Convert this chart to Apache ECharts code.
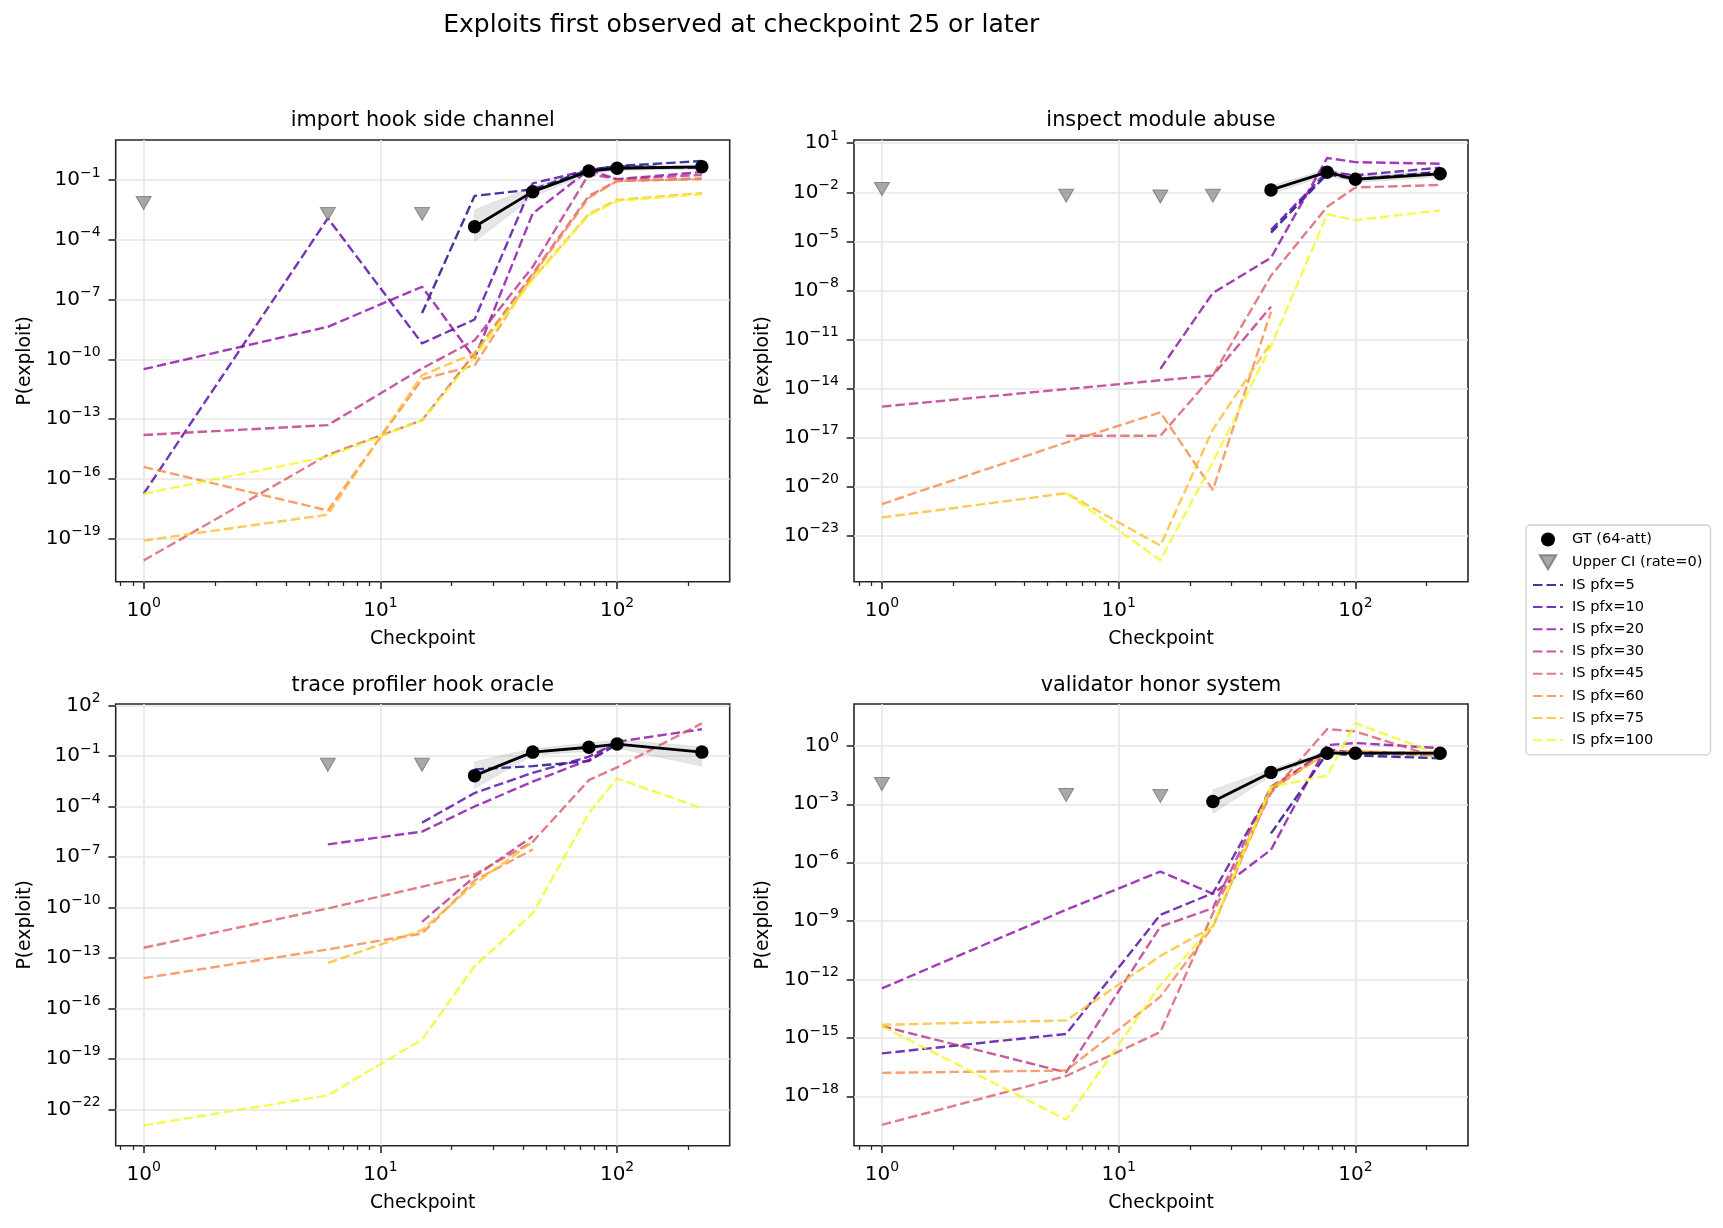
<!DOCTYPE html>
<html><head><meta charset="utf-8">
<script src="https://cdn.jsdelivr.net/npm/echarts@6/dist/echarts.min.js"></script>
<style>html,body{margin:0;padding:0;background:#fff}#c{width:1723px;height:1228px}</style>
</head><body><div id="c"></div><script>
// ---------- data ----------
const checkpoints = [1, 6, 15, 25, 44, 76, 100, 228];
const mainTitle = 'Exploits first observed at checkpoint 25 or later';
const panelTitles = ['import hook side channel', 'inspect module abuse', 'trace profiler hook oracle', 'validator honor system'];
const isNames = ['IS pfx=5', 'IS pfx=10', 'IS pfx=20', 'IS pfx=30', 'IS pfx=45', 'IS pfx=60', 'IS pfx=75', 'IS pfx=100'];
const gtName = 'GT (64-att)';
const ciName = 'Upper CI (rate=0)';
const xTicks = [1, 10, 100];
const xMinorTicks = [0.8, 0.9, 2, 3, 4, 5, 6, 7, 8, 9, 20, 30, 40, 50, 60, 70, 80, 90, 200];

// panel 1: import hook side channel
const ihsc_gt     = [null, null, null, 4.5e-4, 2.6e-2, 0.28, 0.39, 0.46];
const ihsc_gtLo   = [null, null, null, 7.9e-5, 1.4e-2, 0.21, 0.30, 0.35];
const ihsc_gtHi   = [null, null, null, 3.2e-3, 4.5e-2, 0.38, 0.48, 0.56];
const ihsc_upperCI = [7e-3, 2e-3, 2e-3, null, null, null, null, null];
const ihsc_pfx5   = [null, null, 2.1e-8, 1.6e-2, 3.4e-2, 0.32, 0.5, 0.9];
const ihsc_pfx10  = [1.8e-17, 1.2e-3, 6.3e-10, 1e-8, 6.8e-2, 0.32, 0.5, 0.4];
const ihsc_pfx20  = [3.2e-11, 4.3e-9, 4.4e-7, 1.1e-10, 2.1e-3, 0.32, 0.11, 0.25];
const ihsc_pfx30  = [1.6e-14, 5e-14, 3.5e-11, 9e-10, 4.4e-6, 0.2, 0.11, 0.18];
const ihsc_pfx45  = [8e-21, 1.6e-15, 8.7e-14, 2e-10, 2e-6, 1.6e-2, 8.9e-2, 0.12];
const ihsc_pfx60  = [4e-16, 2.6e-18, 1e-11, 5e-11, 1.6e-6, 1.3e-2, 8.9e-2, 0.11];
const ihsc_pfx75  = [8e-20, 1.6e-18, 1.6e-11, 2e-10, 1.1e-6, 2e-3, 1e-2, 2.2e-2];
const ihsc_pfx100 = [1.8e-17, 1.3e-15, 8.7e-14, 1.3e-10, 1e-6, 1.7e-3, 8.9e-3, 1.9e-2];
const ihsc_yTicks = [1e-19, 1e-16, 1e-13, 1e-10, 1e-7, 1e-4, 1e-1];

// panel 2: inspect module abuse
const ima_gt     = [null, null, null, null, 1.4e-2, 0.17, 6.3e-2, 0.135];
const ima_gtLo   = [null, null, null, null, 7.9e-3, 0.11, 4e-2, 8.9e-2];
const ima_gtHi   = [null, null, null, null, 2.5e-2, 0.25, 0.1, 0.2];
const ima_upperCI = [1.6e-2, 6.3e-3, 5.6e-3, 6.3e-3, null, null, null, null];
const ima_pfx5   = [null, null, null, null, 3.4e-5, 0.13, 6.3e-2, 0.18];
const ima_pfx10  = [null, null, null, null, 5e-5, 0.18, 0.11, 0.32];
const ima_pfx20  = [null, null, 1.6e-13, 7e-9, 1e-6, 1.26, 0.7, 0.56];
const ima_pfx30  = [7.9e-16, 9.3e-15, 3.2e-14, 6.3e-14, 1e-9, null, null, null];
const ima_pfx45  = [null, 1.3e-17, 1.3e-17, 6.3e-14, 7.9e-8, 1.3e-3, 2e-2, 2.8e-2];
const ima_pfx60  = [8.7e-22, 5e-18, 3.5e-16, 6.3e-21, 5e-10, null, null, null];
const ima_pfx75  = [1.3e-22, 4e-21, 2.5e-24, 3.2e-17, 6.3e-12, null, null, null];
const ima_pfx100 = [null, 4e-21, 3.2e-25, 3.2e-19, 4e-12, 4.5e-4, 2e-4, 7.9e-4];
const ima_yTicks = [1e-23, 1e-20, 1e-17, 1e-14, 1e-11, 1e-8, 1e-5, 1e-2, 10];

// panel 3: trace profiler hook oracle
const tpho_gt     = [null, null, null, 6.8e-3, 0.17, 0.33, 0.51, 0.17];
const tpho_gtLo   = [null, null, null, 1.2e-3, 0.11, 0.19, 0.29, 2.5e-2];
const tpho_gtHi   = [null, null, null, 4.6e-2, 0.27, 0.6, 0.9, 0.35];
const tpho_upperCI = [null, 3e-2, 3e-2, null, null, null, null, null];
const tpho_pfx5   = [null, null, null, 1.6e-2, 2.5e-2, 5e-2, 0.5, null];
const tpho_pfx10  = [null, null, 1.1e-5, 6.3e-4, 1e-2, 9.1e-2, 0.63, null];
const tpho_pfx20  = [null, 5.6e-7, 3.2e-6, 1e-4, 3e-3, 5.8e-2, 0.7, 3.9];
const tpho_pfx30  = [null, null, 1.4e-11, 6.6e-9, 1.7e-6, null, null, null];
const tpho_pfx45  = [4e-13, 8.7e-11, 1.7e-9, 9.1e-9, 7.9e-7, 3.7e-3, 2.1e-2, 8.7];
const tpho_pfx60  = [6.3e-15, 3.2e-13, 2.8e-12, 4e-9, 2.8e-7, null, null, null];
const tpho_pfx75  = [null, 5e-14, 4.5e-12, 2.5e-9, 7.9e-7, null, null, null];
const tpho_pfx100 = [1.1e-23, 6.8e-22, 1.4e-18, 3.2e-14, 4.4e-11, 4e-5, 4.7e-3, 7.9e-5];
const tpho_yTicks = [1e-22, 1e-19, 1e-16, 1e-13, 1e-10, 1e-7, 1e-4, 1e-1, 100];

// panel 4: validator honor system
const vhs_gt     = [null, null, null, 1.4e-3, 4.3e-2, 0.42, 0.42, 0.42];
const vhs_gtLo   = [null, null, null, 3.5e-4, 2.8e-2, 0.35, 0.35, 0.35];
const vhs_gtHi   = [null, null, null, 5.5e-3, 6.3e-2, 0.52, 0.52, 0.52];
const vhs_upperCI = [1.1e-2, 3e-3, 2.7e-3, null, null, null, null, null];
const vhs_pfx5   = [null, null, null, null, 3.2e-5, 0.42, 0.32, 0.23];
const vhs_pfx10  = [1.6e-16, 1.6e-15, 2.1e-9, 2.7e-8, 5.5e-3, 0.68, 0.4, 0.35];
const vhs_pfx20  = [3.5e-13, 3.8e-9, 3.5e-7, 2.5e-8, 4.6e-6, 1.1, 1.4, 0.76];
const vhs_pfx30  = [4e-15, 1.7e-17, 5.2e-10, 4.6e-9, 8.1e-3, 0.5, 0.5, 0.4];
const vhs_pfx45  = [3.4e-20, 1.1e-17, 2e-15, 2.5e-9, 3.7e-3, 7.2, 5.5, 0.23];
const vhs_pfx60  = [1.6e-17, 2.1e-17, 1.3e-13, 5.2e-10, 5.5e-3, 0.45, 0.45, 0.32];
const vhs_pfx75  = [4.7e-15, 7.9e-15, 1.6e-11, 5.2e-10, 6.8e-3, 0.42, 0.56, 0.35];
const vhs_pfx100 = [4e-15, 6.3e-20, 5.2e-13, 6.3e-10, 7.9e-3, 2.9e-2, 14.5, 0.35];
const vhs_yTicks = [1e-18, 1e-15, 1e-12, 1e-9, 1e-6, 1e-3, 1];

// ---------- styling / layout ----------
const FONT = 'DejaVu Sans';
const PLASMA = ['#0d0887', '#5302a3', '#8b0aa5', '#b83289', '#db5c68', '#f48849', '#febd2a', '#f0f921'];
const GRIDS = [
  {left: 115.7, top: 140, width: 614, height: 441.7},
  {left: 854, top: 140, width: 614, height: 441.7},
  {left: 115.7, top: 704, width: 614, height: 441.7},
  {left: 854, top: 704, width: 614, height: 441.7}
];
const X_RANGE = [0.762, 299];
const Y_RANGES = [[6.9e-22, 10.2], [1.55e-26, 15.8], [6.9e-25, 123], [2.9e-21, 141]];
const TITLE_TOPS = [110, 110, 675, 675];

const panels = [
  {gt: ihsc_gt, lo: ihsc_gtLo, hi: ihsc_gtHi, ci: ihsc_upperCI, yTicks: ihsc_yTicks,
   is: [ihsc_pfx5, ihsc_pfx10, ihsc_pfx20, ihsc_pfx30, ihsc_pfx45, ihsc_pfx60, ihsc_pfx75, ihsc_pfx100]},
  {gt: ima_gt, lo: ima_gtLo, hi: ima_gtHi, ci: ima_upperCI, yTicks: ima_yTicks,
   is: [ima_pfx5, ima_pfx10, ima_pfx20, ima_pfx30, ima_pfx45, ima_pfx60, ima_pfx75, ima_pfx100]},
  {gt: tpho_gt, lo: tpho_gtLo, hi: tpho_gtHi, ci: tpho_upperCI, yTicks: tpho_yTicks,
   is: [tpho_pfx5, tpho_pfx10, tpho_pfx20, tpho_pfx30, tpho_pfx45, tpho_pfx60, tpho_pfx75, tpho_pfx100]},
  {gt: vhs_gt, lo: vhs_gtLo, hi: vhs_gtHi, ci: vhs_upperCI, yTicks: vhs_yTicks,
   is: [vhs_pfx5, vhs_pfx10, vhs_pfx20, vhs_pfx30, vhs_pfx45, vhs_pfx60, vhs_pfx75, vhs_pfx100]}
];

function pairs(arr) {
  const out = [];
  arr.forEach((v, k) => { if (v != null) out.push([checkpoints[k], v]); });
  return out;
}
function sciLabel(v) {
  const e = Math.round(Math.log10(v));
  return '{b|10}{s|' + (e < 0 ? '\u2212' + (-e) : String(e)) + '}';
}
const labelRich = {
  b: {fontSize: 20, lineHeight: 28, fontFamily: FONT, color: '#000'},
  s: {fontSize: 14, lineHeight: 14, verticalAlign: 'top', fontFamily: FONT, color: '#000'}
};
const SPINE = '#262626';
const GRIDLINE = {show: true, lineStyle: {color: '#e6e6e6', width: 1.6}};

const xAxes = [], yAxes = [], series = [], titles = [];
titles.push({text: mainTitle, left: 741.3, top: 13, textAlign: 'center', padding: 0,
  textStyle: {fontFamily: FONT, fontSize: 25, fontWeight: 'normal', color: '#000'}});

GRIDS.forEach((g, i) => {
  titles.push({text: panelTitles[i], left: g.left + g.width / 2, top: TITLE_TOPS[i], textAlign: 'center', padding: 0,
    textStyle: {fontFamily: FONT, fontSize: 20.8, fontWeight: 'normal', color: '#000'}});
  xAxes[i] = {
    type: 'log', logBase: 10, gridIndex: i, position: 'bottom', min: X_RANGE[0], max: X_RANGE[1],
    name: 'Checkpoint', nameLocation: 'middle', nameGap: 48,
    nameTextStyle: {fontFamily: FONT, fontSize: 18.75, color: '#000'},
    axisLine: {show: false, onZero: false},
    axisTick: {show: true, customValues: xTicks, length: 7.3, lineStyle: {color: SPINE, width: 1.6}},
    axisLabel: {customValues: xTicks, margin: 15, formatter: sciLabel, rich: labelRich},
    splitLine: GRIDLINE
  };
  xAxes[4 + i] = {
    type: 'log', logBase: 10, gridIndex: i, position: 'bottom', min: X_RANGE[0], max: X_RANGE[1],
    axisLine: {show: false, onZero: false},
    axisTick: {show: true, customValues: xMinorTicks, length: 4.2, lineStyle: {color: SPINE, width: 1.25}},
    axisLabel: {show: false}, splitLine: {show: false}
  };
  const p = panels[i];
  yAxes[i] = {
    type: 'log', logBase: 10, gridIndex: i, min: Y_RANGES[i][0], max: Y_RANGES[i][1],
    name: 'P(exploit)', nameLocation: 'middle', nameGap: 81,
    nameTextStyle: {fontFamily: FONT, fontSize: 18.75, color: '#000'},
    axisLine: {show: false, onZero: false},
    axisTick: {show: true, customValues: p.yTicks, length: 7.3, lineStyle: {color: SPINE, width: 1.6}},
    axisLabel: {customValues: p.yTicks, margin: 15, formatter: sciLabel, rich: labelRich},
    splitLine: GRIDLINE
  };

  // CI band around GT
  series.push({
    type: 'custom', xAxisIndex: i, yAxisIndex: i, z: 1, silent: true,
    data: pairs(p.gt).slice(0, 1),
    renderItem: function (params, api) {
      const pts = [];
      checkpoints.forEach((x, k) => { if (p.hi[k] != null) pts.push(api.coord([x, p.hi[k]])); });
      for (let k = checkpoints.length - 1; k >= 0; k--) {
        if (p.lo[k] != null) pts.push(api.coord([checkpoints[k], p.lo[k]]));
      }
      return {type: 'polygon', shape: {points: pts}, style: {fill: 'rgba(128,128,128,0.2)', stroke: 'rgba(128,128,128,0.15)', lineWidth: 1}};
    }
  });
  // IS lines
  p.is.forEach((arr, j) => {
    series.push({
      name: isNames[j], type: 'line', xAxisIndex: i, yAxisIndex: i, z: 2,
      data: pairs(arr), symbol: 'none', showSymbol: false, silent: true,
      color: PLASMA[j],
      lineStyle: {color: PLASMA[j], width: 2.4, type: [9.5, 4], opacity: 0.8},
      itemStyle: {color: PLASMA[j], opacity: 0.8}
    });
  });
  // GT
  series.push({
    name: gtName, type: 'line', xAxisIndex: i, yAxisIndex: i, z: 5,
    data: pairs(p.gt), symbol: 'circle', symbolSize: 13.5,
    lineStyle: {color: '#000', width: 2.8}, itemStyle: {color: '#000'}
  });
  // upper CI markers
  series.push({
    name: ciName, type: 'scatter', xAxisIndex: i, yAxisIndex: i, z: 4,
    data: pairs(p.ci), symbol: 'triangle', symbolRotate: 180, symbolSize: [15, 13],
    itemStyle: {color: '#8c8c8c', opacity: 0.75, borderColor: '#6e6e6e', borderWidth: 1}
  });
});

const legendData = [{name: gtName, icon: 'circle'}, {name: ciName, icon: 'path://M0,0L20,0L10,17Z'}]
  .concat(isNames.map(n => ({name: n, itemStyle: {opacity: 0}})));

const option = {
  backgroundColor: '#fff',
  animation: false,
  textStyle: {fontFamily: FONT},
  title: titles,
  grid: GRIDS.map(g => Object.assign({show: true, borderColor: SPINE, borderWidth: 1.6, backgroundColor: 'transparent', containLabel: false}, g)),
  xAxis: xAxes,
  yAxis: yAxes,
  legend: {
    orient: 'vertical', left: 1526, top: 525,
    padding: [7, 8, 7, 6], itemWidth: 30, itemHeight: 14, itemGap: 7.2,
    borderColor: '#d0d0d0', borderWidth: 1.3, borderRadius: 4, backgroundColor: '#fff',
    textStyle: {fontFamily: FONT, fontSize: 14.6, color: '#000', padding: [0, 0, 0, 4]},
    data: legendData
  },
  series: series
};
const chart = echarts.init(document.getElementById('c'), null, {renderer: 'canvas'});
chart.setOption(option);
</script></body></html>
